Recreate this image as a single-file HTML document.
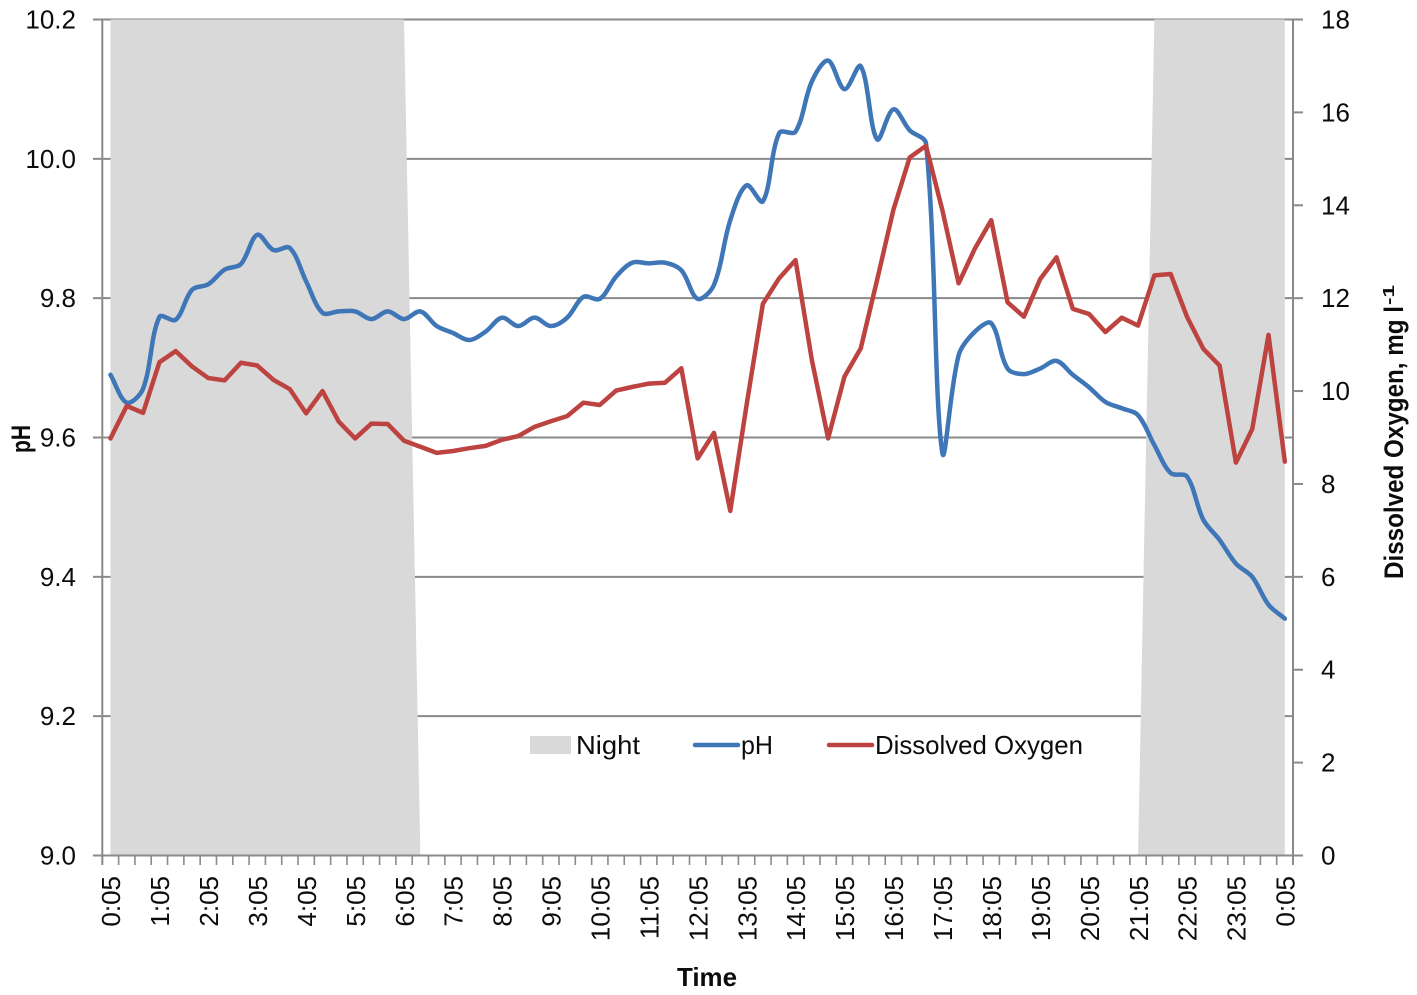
<!DOCTYPE html>
<html lang="en">
<head>
<meta charset="utf-8">
<title>pH and Dissolved Oxygen over time</title>
<style>
html,body{margin:0;padding:0;background:#fff;}
svg{display:block;}
text{font-family:"Liberation Sans",Arial,sans-serif;fill:#0c0c0c;}
</style>
</head>
<body>
<svg id="chart" xmlns="http://www.w3.org/2000/svg" width="1417" height="995" viewBox="0 0 1417 995">
  <g id="grid"></g>
  <path id="nightArea" fill="#d9d9d9"></path>
  <g id="axes"></g>
  <path id="phLine" fill="none" stroke="#3e76b8" stroke-width="4.5" stroke-linejoin="round" stroke-linecap="round"></path>
  <path id="doLine" fill="none" stroke="#bd4341" stroke-width="4.5" stroke-linejoin="round" stroke-linecap="round"></path>

  <text transform="translate(30,453) rotate(-90)" font-size="27" font-weight="bold" textLength="28" lengthAdjust="spacingAndGlyphs">pH</text>
  <text x="677" y="986" font-size="26" font-weight="bold" textLength="60" lengthAdjust="spacingAndGlyphs">Time</text>
  <text transform="translate(1403,579) rotate(-90)" font-size="27" font-weight="bold" textLength="273" lengthAdjust="spacingAndGlyphs">Dissolved Oxygen, mg l</text>
  <text transform="translate(1394,305) rotate(-90)" font-size="16" font-weight="bold" textLength="20" lengthAdjust="spacingAndGlyphs">-1</text>

  <g>
    <g>
      <rect x="530" y="736" width="41" height="18" fill="#d9d9d9"></rect>
      <text x="576" y="754" font-size="26" textLength="64" lengthAdjust="spacingAndGlyphs">Night</text>
    </g>
    <g>
      <line x1="695" y1="745" x2="738" y2="745" stroke="#3e76b8" stroke-width="4.5" stroke-linecap="round"></line>
      <text x="741" y="754" font-size="26" textLength="32" lengthAdjust="spacingAndGlyphs">pH</text>
    </g>
    <g>
      <line x1="829" y1="745" x2="872" y2="745" stroke="#bd4341" stroke-width="4.5" stroke-linecap="round"></line>
      <text x="875" y="754" font-size="26" textLength="208" lengthAdjust="spacingAndGlyphs">Dissolved Oxygen</text>
    </g>
  </g>
</svg>

<script>
var categories = [
"0:05","0:25","0:45","1:05","1:25","1:45","2:05","2:25","2:45","3:05","3:25","3:45",
"4:05","4:25","4:45","5:05","5:25","5:45","6:05","6:25","6:45","7:05","7:25","7:45",
"8:05","8:25","8:45","9:05","9:25","9:45","10:05","10:25","10:45","11:05","11:25","11:45",
"12:05","12:25","12:45","13:05","13:25","13:45","14:05","14:25","14:45","15:05","15:25","15:45",
"16:05","16:25","16:45","17:05","17:25","17:45","18:05","18:25","18:45","19:05","19:25","19:45",
"20:05","20:25","20:45","21:05","21:25","21:45","22:05","22:25","22:45","23:05","23:25","23:45","0:05"
];
var phValues = [
9.69,9.65,9.67,9.773,9.769,9.812,9.82,9.841,9.849,9.891,9.869,9.872,
9.824,9.779,9.781,9.781,9.77,9.781,9.77,9.781,9.76,9.75,9.74,9.752,
9.772,9.76,9.772,9.76,9.772,9.802,9.799,9.831,9.851,9.85,9.851,9.84,
9.799,9.819,9.912,9.962,9.939,10.037,10.039,10.111,10.141,10.1,10.133,10.028,
10.071,10.041,10.022,9.578,9.718,9.752,9.764,9.699,9.691,9.699,9.71,9.69,
9.672,9.651,9.642,9.632,9.589,9.549,9.544,9.482,9.453,9.419,9.4,9.36,9.34
];
var oxygenValues = [
8.98,9.68,9.53,10.62,10.86,10.53,10.28,10.23,10.61,10.55,10.24,10.04,
9.52,10.0,9.34,8.98,9.30,9.29,8.93,8.80,8.67,8.71,8.77,8.82,
8.95,9.03,9.23,9.35,9.46,9.75,9.70,10.01,10.09,10.16,10.18,10.49,
8.55,9.10,7.42,9.70,11.88,12.43,12.82,10.67,8.98,10.31,10.92,12.39,
13.90,15.03,15.28,13.90,12.32,13.07,13.68,11.91,11.60,12.41,12.88,11.77,
11.66,11.27,11.58,11.41,12.49,12.52,11.60,10.91,10.55,8.46,9.18,11.21,8.48
];
var nightValues = [
1,1,1,1,1,1,1,1,1,1,1,1,
1,1,1,1,1,1,1,0,0,0,0,0,
0,0,0,0,0,0,0,0,0,0,0,0,
0,0,0,0,0,0,0,0,0,0,0,0,
0,0,0,0,0,0,0,0,0,0,0,0,
0,0,0,0,1,1,1,1,1,1,1,1,1
];
var phTicks = [9.0,9.2,9.4,9.6,9.8,10.0,10.2];
var phTickLabels = ["9.0","9.2","9.4","9.6","9.8","10.0","10.2"];
var oxygenTicks = [0,2,4,6,8,10,12,14,16,18];
var xLabelStep = 3;

(function(){
  var NS = "http://www.w3.org/2000/svg";
  var left = 102.3, right = 1293, top = 19.5, bottom = 855.5;
  var step = (right - left) / categories.length;
  function xPos(i){ return left + step * (i + 0.5); }
  function yPH(v){ return bottom - (v - 9) / 1.2 * (bottom - top); }
  function yDO(v){ return bottom - v / 18 * (bottom - top); }
  function yNight(v){ return yPH(9 + 1.2 * v); }

  function make(tag, attrs, parent){
    var el = document.createElementNS(NS, tag);
    for (var k in attrs) el.setAttribute(k, attrs[k]);
    parent.appendChild(el);
    return el;
  }
  var grid = document.getElementById("grid");
  var axes = document.getElementById("axes");
  var GRAY = "#8a8a8a";

  phTicks.forEach(function(t){
    var y = yPH(t);
    var gl = make("line", {x1:left, x2:right, y1:y, y2:y, stroke:GRAY, "stroke-width":2}, grid);
    
    
  });

  // night area
  var d = "M" + xPos(0) + " " + bottom;
  nightValues.forEach(function(v, i){ d += " L" + xPos(i).toFixed(2) + " " + yNight(v).toFixed(2); });
  d += " L" + xPos(nightValues.length - 1) + " " + bottom + " Z";
  document.getElementById("nightArea").setAttribute("d", d);

  // axis lines
  var yAxisL = make("line", {x1:left, x2:left, y1:top - 1, y2:865, stroke:GRAY, "stroke-width":2}, axes);
  
  
  var yAxisR = make("line", {x1:right, x2:right, y1:top - 1, y2:865, stroke:GRAY, "stroke-width":2}, axes);
  
  
  var xAxis = make("line", {x1:93, x2:1303, y1:bottom, y2:bottom, stroke:GRAY, "stroke-width":2}, axes);
  
  

  // left ticks and labels
  phTicks.forEach(function(t, i){
    var y = yPH(t);
    var tk = make("line", {x1:93, x2:left, y1:y, y2:y, stroke:GRAY, "stroke-width":2}, axes);
    
    
    var lb = make("text", {x:76, y:y + 9, "text-anchor":"end", "font-size":26}, axes);
    lb.textContent = phTickLabels[i];
    
    
  });

  // right ticks and labels
  oxygenTicks.forEach(function(t){
    var y = yDO(t);
    var tk = make("line", {x1:right, x2:1303, y1:y, y2:y, stroke:GRAY, "stroke-width":2}, axes);
    
    
    var lb = make("text", {x:1321, y:y + 9, "font-size":26}, axes);
    lb.textContent = String(t);
    
    
  });

  // x ticks
  for (var k = 0; k <= categories.length; k++){
    var tx = left + step * k;
    var tk = make("line", {x1:tx, x2:tx, y1:bottom, y2:865, stroke:GRAY, "stroke-width":1.6}, axes);
    
    
  }
  // x labels
  categories.forEach(function(c, i){
    if (i % xLabelStep !== 0) return;
    var px = xPos(i) + 9.7;
    var lb = make("text", {transform:"translate(" + px.toFixed(2) + ",876) rotate(-90)", "text-anchor":"end", "font-size":26}, axes);
    lb.textContent = c;
    
    
  });

  // pH smooth line: handles scaled by segment length so sharp drops do not overshoot
  var pts = phValues.map(function(v, i){ return [xPos(i), yPH(v)]; });
  function dist(a, b){ return Math.hypot(a[0] - b[0], a[1] - b[1]); }
  function handles(i){
    var a = pts[Math.max(i - 1, 0)], b = pts[i], c = pts[Math.min(i + 1, pts.length - 1)];
    var d1 = dist(a, b), d2 = dist(b, c), s = d1 + d2;
    var tx = c[0] - a[0], ty = c[1] - a[1];
    return {
      bx: b[0] - tx * d1 / s / 3, by: b[1] - ty * d1 / s / 3,
      fx: b[0] + tx * d2 / s / 3, fy: b[1] + ty * d2 / s / 3
    };
  }
  var p = "M" + pts[0][0].toFixed(2) + " " + pts[0][1].toFixed(2);
  for (var i = 0; i < pts.length - 1; i++){
    var h1 = handles(i), h2 = handles(i + 1), e = pts[i + 1];
    p += " C" + h1.fx.toFixed(2) + " " + h1.fy.toFixed(2) + " " + h2.bx.toFixed(2) + " " + h2.by.toFixed(2) + " " + e[0].toFixed(2) + " " + e[1].toFixed(2);
  }
  document.getElementById("phLine").setAttribute("d", p);

  // dissolved oxygen polyline
  var o = "";
  oxygenValues.forEach(function(v, i){ o += (i ? " L" : "M") + xPos(i).toFixed(2) + " " + yDO(v).toFixed(2); });
  document.getElementById("doLine").setAttribute("d", o);
})();
</script>
</body>
</html>
